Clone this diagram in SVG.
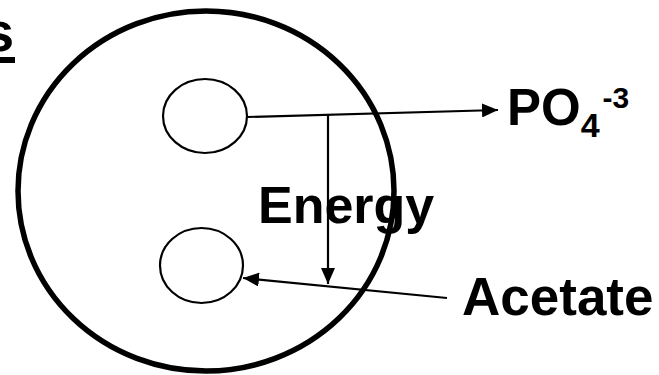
<svg xmlns="http://www.w3.org/2000/svg" width="659" height="375" viewBox="0 0 659 375">
<style>
.t{font-family:"Liberation Sans",Arial,sans-serif;font-weight:bold;fill:#000}
.c{fill:none;stroke:#000}
.l{fill:none;stroke:#000;stroke-width:2.2}
</style>
<defs>
<marker id="ah" viewBox="0 0 10 10" refX="10" refY="5" markerWidth="16" markerHeight="14" markerUnits="userSpaceOnUse" orient="auto" preserveAspectRatio="none">
<path d="M0,0 L10,5 L0,10 Z" fill="#000"/>
</marker>
</defs>
<rect width="659" height="375" fill="#fff"/>
<g id="title">
<text class="t" x="-17" y="51" font-size="56">s</text>
<rect x="-2" y="57" width="17" height="6" fill="#000"/>
</g>
<g id="cell">
<ellipse class="c" cx="206" cy="191" rx="188" ry="180" stroke-width="5.5"/>
</g>
<g id="upper">
<ellipse class="c" cx="205" cy="116" rx="42" ry="37" stroke-width="2.2"/>
</g>
<g id="lower">
<ellipse class="c" cx="201.5" cy="265.5" rx="41.5" ry="37.5" stroke-width="2.2"/>
</g>
<g id="connectors">
<line class="l" x1="247" y1="117" x2="498" y2="110" marker-end="url(#ah)"/>
<line class="l" x1="328" y1="115" x2="328" y2="284" marker-end="url(#ah)"/>
<line class="l" x1="447" y1="298" x2="243" y2="278" marker-end="url(#ah)"/>
</g>
<g id="energy">
<text class="t" x="258" y="223" font-size="52">Energy</text>
</g>
<g id="po4">
<text class="t" x="507" y="125" font-size="51">PO<tspan font-size="34" dy="12">4</tspan><tspan font-size="30" dx="3" dy="-29">-3</tspan></text>
</g>
<g id="acetate">
<text class="t" x="462" y="315" font-size="53">Acetate</text>
</g>
</svg>
